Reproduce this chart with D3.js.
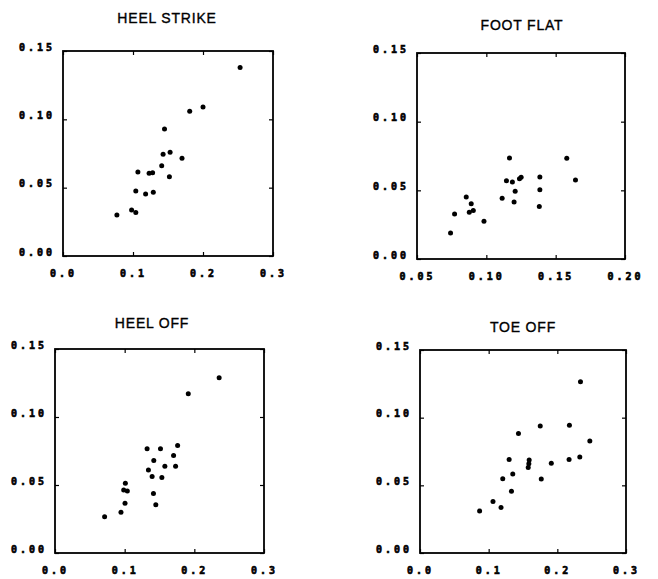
<!DOCTYPE html>
<html>
<head>
<meta charset="utf-8">
<script src="https://cdn.jsdelivr.net/npm/d3@7"></script>
<style>
  body { margin: 0; background: #fff; }
  .tick text { font-family: "DejaVu Sans Mono", monospace; font-weight: bold; font-size: 10px; letter-spacing: 3px; fill: #000; stroke: #000; stroke-width: 0.6px; }
  .title { font-family: "Liberation Sans", sans-serif; font-size: 14px; letter-spacing: 0.8px; fill: #000; stroke: #000; stroke-width: 0.35px; }
</style>
</head>
<body>
<div id="chart"></div>
<script>
// DATA ***********************************************
var titles = ["HEEL STRIKE", "FOOT FLAT", "HEEL OFF", "TOE OFF"];

var yTicks = [0, 0.05, 0.10, 0.15];
var yTickLabels = ["0.00", "0.05", "0.10", "0.15"];
var xTicksA = [0, 0.1, 0.2, 0.3];
var xTickLabelsA = ["0.0", "0.1", "0.2", "0.3"];
var xTicksB = [0.05, 0.10, 0.15, 0.20];
var xTickLabelsB = ["0.05", "0.10", "0.15", "0.20"];

// heel strike
var hsX = [0.253, 0.181, 0.200, 0.145, 0.143, 0.153, 0.170, 0.141, 0.107, 0.123, 0.128, 0.152, 0.104, 0.118, 0.129, 0.098, 0.104, 0.077];
var hsY = [0.138, 0.106, 0.109, 0.093, 0.0745, 0.076, 0.0716, 0.066, 0.0615, 0.0605, 0.061, 0.058, 0.0476, 0.0454, 0.0466, 0.0336, 0.0319, 0.030];

// foot flat
var ffX = [0.0742, 0.0771, 0.0855, 0.0891, 0.0877, 0.0906, 0.0983, 0.1114, 0.1145, 0.1167, 0.1188, 0.1239, 0.1251, 0.1208, 0.1200, 0.1386, 0.1386, 0.1382, 0.1580, 0.1643];
var ffY = [0.0189, 0.0328, 0.0451, 0.0403, 0.0340, 0.0354, 0.0274, 0.0442, 0.0570, 0.0735, 0.0561, 0.0585, 0.0595, 0.0493, 0.0415, 0.0597, 0.0505, 0.0383, 0.0733, 0.0575];

// heel off
var hoX = [0.2356, 0.1913, 0.1322, 0.1514, 0.1760, 0.1702, 0.1418, 0.1577, 0.1731, 0.1341, 0.1394, 0.1534, 0.1010, 0.0986, 0.1038, 0.1413, 0.1005, 0.1447, 0.0947, 0.0712];
var hoY = [0.1288, 0.1171, 0.0766, 0.0766, 0.0790, 0.0717, 0.0680, 0.0637, 0.0637, 0.0610, 0.0563, 0.0556, 0.0512, 0.0463, 0.0456, 0.0437, 0.0366, 0.0354, 0.0300, 0.0266];

// toe off
var toX = [0.2337, 0.1751, 0.2176, 0.1434, 0.2473, 0.1298, 0.1590, 0.1585, 0.1576, 0.1912, 0.2171, 0.2327, 0.1351, 0.1205, 0.1766, 0.1332, 0.1063, 0.1180, 0.0868];
var toY = [0.1266, 0.0939, 0.0944, 0.0883, 0.0827, 0.0690, 0.0688, 0.0659, 0.0632, 0.0663, 0.0690, 0.0710, 0.0583, 0.0549, 0.0546, 0.0456, 0.0380, 0.0337, 0.0310];

// LAYOUT ***********************************************
var width = 658, height = 579;

var panels = [
  { title: titles[0], xs: hsX, ys: hsY, xt: xTicksA, xl: xTickLabelsA, xd: [0, 0.3],
    left: 63, top: 51, w: 210, h: 205, titleY: 23, titleX: 167 },
  { title: titles[1], xs: ffX, ys: ffY, xt: xTicksB, xl: xTickLabelsB, xd: [0.05, 0.20],
    left: 417, top: 53, w: 208, h: 206, titleY: 30, titleX: 522 },
  { title: titles[2], xs: hoX, ys: hoY, xt: xTicksA, xl: xTickLabelsA, xd: [0, 0.3],
    left: 55, top: 349, w: 209, h: 204, titleY: 328, titleX: 152 },
  { title: titles[3], xs: toX, ys: toY, xt: xTicksA, xl: xTickLabelsA, xd: [0, 0.3],
    left: 420, top: 350, w: 206, h: 203, titleY: 332, titleX: 523 }
];

var svg = d3.select("#chart")
  .append("svg")
  .attr("width", width)
  .attr("height", height);

panels.forEach(drawPanel);

// FUNCTIONS ***********************************************
function drawPanel(p) {
  var x = d3.scaleLinear().domain(p.xd).range([0, p.w]);
  var y = d3.scaleLinear().domain([0, 0.15]).range([p.h, 0]);

  svg.append("text")
    .attr("class", "title")
    .attr("x", p.titleX)
    .attr("y", p.titleY)
    .attr("text-anchor", "middle")
    .text(p.title);

  var g = svg.append("g")
    .attr("transform", "translate(" + p.left + "," + p.top + ")");

  // bottom axis with labels
  g.append("g")
    .attr("transform", "translate(0," + p.h + ")")
    .call(d3.axisBottom(x).tickValues(p.xt).tickSize(-4).tickPadding(14)
      .tickFormat(function (d, i) { return p.xl[i]; }));

  // left axis with labels
  var left = g.append("g")
    .call(d3.axisLeft(y).tickValues(yTicks).tickSize(-4).tickPadding(8)
      .tickFormat(function (d, i) { return yTickLabels[i]; }));
  left.selectAll(".tick text").attr("dy", "-0.1em");

  // top and right: ticks only
  g.append("g")
    .call(d3.axisTop(x).tickValues(p.xt).tickSize(-4).tickFormat(""));
  g.append("g")
    .attr("transform", "translate(" + p.w + ",0)")
    .call(d3.axisRight(y).tickValues(yTicks).tickSize(-4).tickFormat(""));

  g.selectAll(".domain").remove();
  g.selectAll(".tick line").attr("stroke", "#000").attr("stroke-width", 1.2);

  g.append("rect")
    .attr("width", p.w)
    .attr("height", p.h)
    .attr("fill", "none")
    .attr("stroke", "#000")
    .attr("stroke-width", 1.8);

  g.selectAll(".dot")
    .data(d3.range(p.xs.length))
    .enter()
    .append("circle")
    .attr("class", "dot")
    .attr("cx", function (i) { return x(p.xs[i]); })
    .attr("cy", function (i) { return y(p.ys[i]); })
    .attr("r", 2.5)
    .attr("fill", "#000");
}
</script>
</body>
</html>
